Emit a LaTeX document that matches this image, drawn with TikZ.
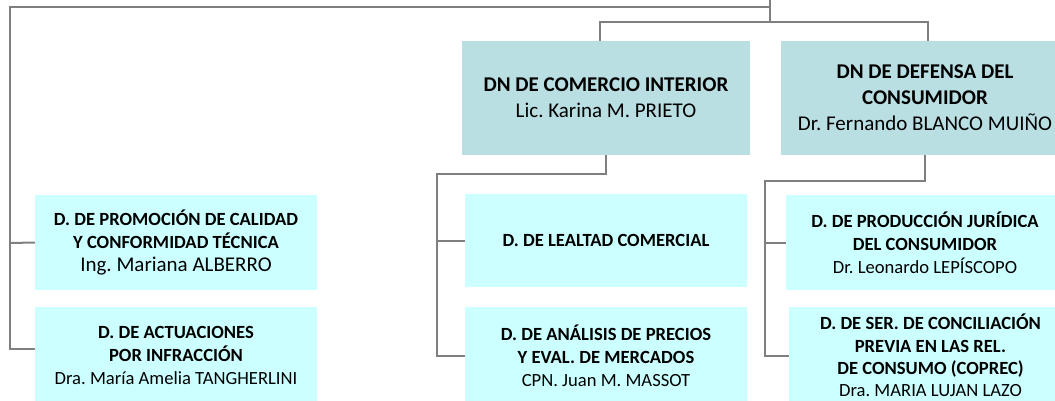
\documentclass[tikz,border=0pt]{standalone}
\usepackage{fontspec}
\setmainfont{Carlito}
\frenchspacing
\definecolor{linegray}{RGB}{127,127,127}
\definecolor{dnfill}{HTML}{B9DFE2}
\definecolor{subfill}{HTML}{CCFFFF}
\tikzset{
  conn/.style={draw=linegray, line width=2pt},
  dnbox/.style={rectangle, fill=dnfill, draw=none, align=center, inner sep=0pt,
     minimum width=288pt, minimum height=114pt,
     font=\fontsize{21}{26}\selectfont},
  subbox/.style={rectangle, fill=subfill, draw=none, align=center, inner sep=0pt,
     minimum height=95pt,
     font=\fontsize{18.6}{22.8}\selectfont},
}
\begin{document}
\begin{tikzpicture}[x=1pt,y=-1pt]
\useasboundingbox (0,0) rectangle (1055,400);
\clip (0,0) rectangle (1055,400);
% top-level boxes
\node[dnbox] (dnmid) at (606,98) {\textbf{DN DE COMERCIO INTERIOR}\\Lic. Karina M. PRIETO};
\node[dnbox] (dnright) at (925,98) {\textbf{DN DE DEFENSA DEL}\\\textbf{CONSUMIDOR}\\Dr. Fernando BLANCO MUIÑO};
% left column
\node[subbox, minimum width=282pt] (l1) at (176,242.5)
  {\textbf{D. DE PROMOCIÓN DE CALIDAD}\\\textbf{Y CONFORMIDAD TÉCNICA}\\{\fontsize{21}{24}\selectfont Ing. Mariana ALBERRO}};
\node[subbox, minimum width=282pt, minimum height=97pt] (l2) at (176,355.5)
  {\textbf{D. DE ACTUACIONES}\\\textbf{POR INFRACCIÓN}\\Dra. María Amelia TANGHERLINI};
% middle column
\node[subbox, minimum width=282pt, minimum height=93pt] (m1) at (606,240.5)
  {\textbf{D. DE LEALTAD COMERCIAL}};
\node[subbox, minimum width=282pt, minimum height=97pt] (m2) at (606,355.5)
  {\textbf{D. DE ANÁLISIS DE PRECIOS}\\\textbf{Y EVAL. DE MERCADOS}\\CPN. Juan M. MASSOT};
% right column
\node[subbox, minimum width=278pt] (r1) at (925,242.5)
  {\textbf{D. DE PRODUCCIÓN JURÍDICA}\\\textbf{DEL CONSUMIDOR}\\Dr. Leonardo LEPÍSCOPO};
\node[subbox, minimum width=283pt, minimum height=97pt, font=\fontsize{18.6}{22.4}\selectfont] (r2) at (930.5,355.5)
  {\textbf{D. DE SER. DE CONCILIACIÓN}\\\textbf{PREVIA EN LAS REL.}\\\textbf{DE CONSUMO (COPREC)}\\Dra. MARIA LUJAN LAZO};
% coordinates
\coordinate (top) at (770,0);
\coordinate (j0) at (770,7);
\coordinate (j1) at (770,22);
\coordinate (lcorner) at (10,7);
\coordinate (lb1) at (10,243);
\coordinate (lb2) at (10,349);
\coordinate (mj) at (606,174);
\coordinate (mb1) at (437,240.5);
\coordinate (mb2) at (437,355.5);
\coordinate (rj) at (925,181);
\coordinate (rb1) at (765,242.5);
\coordinate (rb2) at (765,355.5);
% connectors
\draw[conn] (top) -- (j1);
\draw[conn] ([xshift=-6pt]dnmid.north) |- (j1) -| ([xshift=3pt]dnright.north);
\draw[conn] (j0) -- (lcorner) -- (lb2) -- ([yshift=6.5pt]l2.west);
\draw[conn] (lb1) -- (l1.west);
\draw[conn] (dnmid.south) -- (mj) -| (mb2) -- (m2.west);
\draw[conn] (mb1) -- (m1.west);
\draw[conn] (dnright.south) -- (rj) -| (rb2) -- (r2.west);
\draw[conn] (rb1) -- (r1.west);
\end{tikzpicture}
\end{document}
